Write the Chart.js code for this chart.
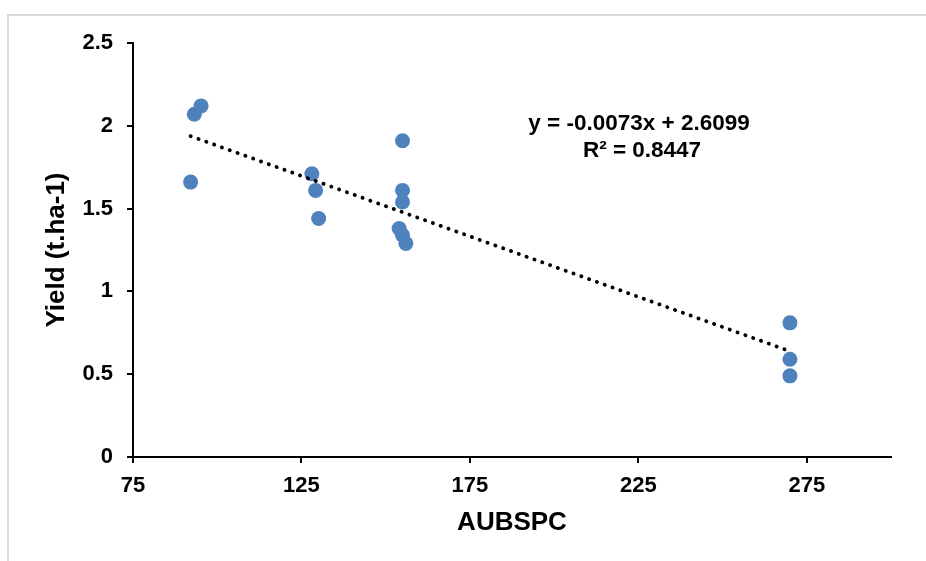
<!DOCTYPE html>
<html>
<head>
<meta charset="utf-8">
<script src="https://cdn.jsdelivr.net/npm/chart.js@4"></script>
<style>
  body { margin: 0; background: #fff; }
  #wrap { position: relative; width: 926px; height: 561px; overflow: hidden; }
  #frame { position: absolute; left: 7px; top: 14px; width: 1000px; height: 600px;
           border-left: 2px solid #d9d9d9; border-top: 2px solid #d9d9d9; }
  #chart-box { position: absolute; left: 0; top: 0; width: 926px; height: 561px; }
</style>
</head>
<body>
<div id="wrap">
  <div id="frame"></div>
  <div id="chart-box"><canvas id="myChart"></canvas></div>
</div>
<script>
// data
const aubspc = [92.1, 93.2, 95.2, 128.1, 129.2, 130.1, 155, 155, 155, 154, 155, 156, 270, 270, 270];
const yieldVals = [1.66, 2.07, 2.12, 1.71, 1.61, 1.44, 1.91, 1.61, 1.54, 1.38, 1.34, 1.29, 0.81, 0.59, 0.49];
const xTicks = [75, 125, 175, 225, 275];
const yTicks = [0, 0.5, 1, 1.5, 2, 2.5];
// linear trendline as printed on the chart
const trendSlope = -0.0073;
const trendIntercept = 2.6099;
const trendLabel = ['y = -0.0073x + 2.6099', 'R² = 0.8447'];

const FONT = '"Liberation Sans", Arial, sans-serif';

const points = aubspc.map((x, i) => ({ x: x, y: yieldVals[i] }));
const xMin = Math.min(...aubspc);
const xMax = Math.max(...aubspc);
const trend = [xMin, xMax].map(x => ({ x: x, y: trendIntercept + trendSlope * x }));

// equation text next to the line
const eqPlugin = {
    id: 'eqText',
    afterDatasetsDraw(chart) {
        const ctx = chart.ctx;
        ctx.save();
        ctx.font = 'bold 22.5px ' + FONT;
        ctx.fillStyle = '#000';
        ctx.textAlign = 'center';
        ctx.textBaseline = 'middle';
        ctx.fillText(trendLabel[0], 639, 124);
        ctx.fillText(trendLabel[1], 642, 151);
        ctx.restore();
    }
};

new Chart(document.getElementById('myChart'), {
    type: 'scatter',
    data: {
        datasets: [{
            label: 'Yield',
            data: points,
            backgroundColor: '#4F81BD',
            borderColor: '#4F81BD',
            borderWidth: 0,
            pointRadius: 7.5,
            order: 1
        }, {
            label: 'Linear',
            type: 'line',
            data: trend,
            borderColor: '#000',
            borderWidth: 3.8,
            borderDash: [0.2, 8.1],
            borderCapStyle: 'round',
            pointRadius: 0,
            fill: false,
            order: 0
        }]
    },
    options: {
        responsive: true,
        maintainAspectRatio: false,
        animation: false,
        layout: { padding: { top: 43, right: 35, left: 0, bottom: 0 } },
        plugins: { legend: { display: false }, tooltip: { enabled: false } },
        scales: {
            x: {
                type: 'linear',
                min: 75,
                max: 300,
                afterFit: s => { s.height = 104; },
                afterBuildTicks: s => { s.ticks = xTicks.map(v => ({ value: v })); },
                grid: { display: true, drawOnChartArea: false, drawTicks: true, tickLength: 6, color: '#000', lineWidth: 2 },
                border: { display: true, color: '#000', width: 2 },
                ticks: { color: '#000', padding: 10, font: { family: FONT, size: 22, weight: 'bold' }, callback: v => String(v) },
                title: { display: true, text: 'AUBSPC', color: '#000', padding: { top: 0, bottom: 23 },
                         font: { family: FONT, size: 26, weight: 'bold' } }
            },
            y: {
                type: 'linear',
                min: 0,
                max: 2.5,
                afterFit: s => { s.width = 133; },
                afterBuildTicks: s => { s.ticks = yTicks.map(v => ({ value: v })); },
                grid: { display: true, drawOnChartArea: false, drawTicks: true, tickLength: 6, color: '#000', lineWidth: 2 },
                border: { display: true, color: '#000', width: 2 },
                ticks: { color: '#000', padding: 14, font: { family: FONT, size: 22, weight: 'bold' }, callback: v => String(v) },
                title: { display: true, text: 'Yield (t.ha-1)', color: '#000', padding: { top: 41, bottom: 0 },
                         font: { family: FONT, size: 26, weight: 'bold' } }
            }
        }
    },
    plugins: [eqPlugin]
});
</script>
</body>
</html>
